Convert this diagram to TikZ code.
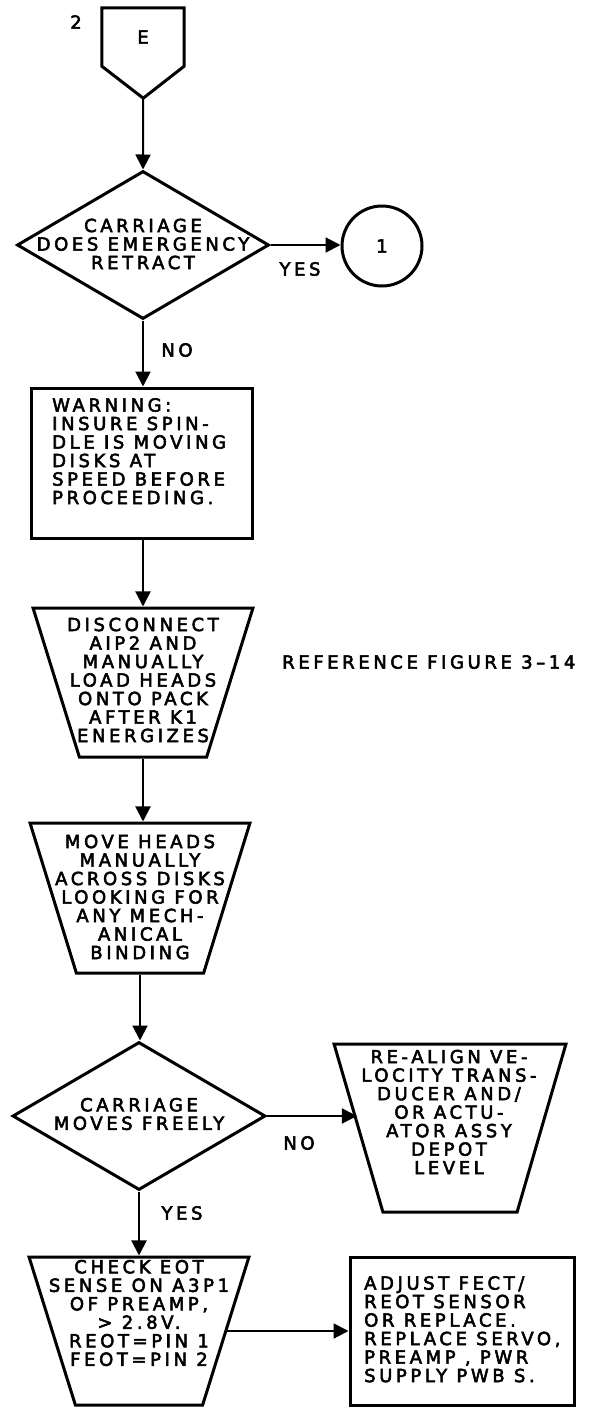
\documentclass[tikz,border=0pt]{standalone}
\usepackage{fontspec}
\setmainfont{DejaVu Sans}[LetterSpace=20, FakeBold=3]
\usepackage{tikz}
\usetikzlibrary{arrows.meta,shapes.geometric}

\begin{document}
\begin{tikzpicture}[x=1pt, y=-1pt,
    every node/.style={font=\fontsize{18}{18.5}\selectfont, inner sep=0pt},
    flow/.style={-{Triangle[length=15pt,width=15pt]}, line width=2pt},
    outline/.style={draw, line width=3pt, line join=miter},
    decision/.style={outline, diamond, minimum width=#1, minimum height=148pt},
    manual/.style={outline, trapezium, trapezium stretches=true, inner sep=2pt,
        trapezium left angle=110, trapezium right angle=110},
    note/.style={align=center}]
    \useasboundingbox (0,0) rectangle (597,1410);

    \node (two) at (76,22) {2};
    \node[minimum width=82pt, minimum height=58pt] (pageE) at (143,37) {E};
    \draw[outline] (pageE.south west) -- (pageE.north west) -- (pageE.north east)
        -- (pageE.south east) -- ++(-41,32) coordinate (pageEtip) -- cycle;

    \node[decision=252pt] (retract) at (143,245) {};
    \node[note] (retractT) at (143,244) {CARRIAGE\\DOES EMERGENCY\\RETRACT};
    \node[outline, circle, minimum size=80pt] (conn1) at (382,246) {1};
    \node (yes1) at (300,269) {YES};
    \node (no1) at (177,350) {NO};

    \node[outline, minimum width=221pt, minimum height=150pt] (warn) at (142,463) {};
    \node[align=left, anchor=north west] (warnT) at (52,398)
        {WARNING:\\INSURE SPIN-\\DLE IS MOVING\\DISKS AT\\SPEED BEFORE\\PROCEEDING.};

    \node[manual, minimum width=220pt, minimum height=149pt] (load) at (143,682.5) {};
    \node[note] (loadT) at (143,680)
        {DISCONNECT\\AIP2 AND\\MANUALLY\\LOAD HEADS\\ONTO PACK\\AFTER K1\\ENERGIZES};
    \node[anchor=west] (ref) at (282,662) {REFERENCE FIGURE 3–14};

    \node[manual, minimum width=220pt, minimum height=150pt] (move) at (140,898) {};
    \node[note] (moveT) at (140,897)
        {MOVE HEADS\\MANUALLY\\ACROSS DISKS\\LOOKING FOR\\ANY MECH-\\ANICAL\\BINDING};

    \node[decision=253pt] (freely) at (139,1116) {};
    \node[note] (freelyT) at (139,1114) {CARRIAGE\\MOVES FREELY};
    \node (no2) at (299,1143) {NO};

    \node[manual, minimum width=232pt, minimum height=168pt] (realign) at (450,1128) {};
    \node[note] (realignT) at (449,1112)
        {RE-ALIGN VE-\\LOCITY TRANS-\\DUCER AND/\\OR ACTU-\\ATOR ASSY\\DEPOT\\LEVEL};

    \node (yes2) at (182,1213) {YES};
    \node[manual, minimum width=220pt, minimum height=148pt] (check) at (139,1331) {};
    \node[note] (checkT) at (139,1313)
        {CHECK EOT\\SENSE ON A3P1\\OF PREAMP,\\> 2.8V.\\REOT=PIN 1\\FEOT=PIN 2};

    \node[outline, minimum width=224pt, minimum height=148pt] (adjust) at (462,1331) {};
    \node[align=left, anchor=north west] (adjustT) at (364,1276)
        {ADJUST FECT/\\REOT SENSOR\\OR REPLACE.\\REPLACE SERVO,\\PREAMP , PWR\\SUPPLY PWB S.};

    \draw[flow] (pageEtip) -- (retract.north);
    \draw[flow] (retract.east) -- (retract.east -| conn1.west);
    \draw[flow] (retract.south) -- (retract.south |- warn.north);
    \draw[flow] (load.north |- warn.south) -- (load.north);
    \draw[flow] (load.south) -- (load.south |- move.north);
    \draw[flow] (move.south) -- (move.south |- freely.north);
    \draw[flow] (freely.east) -- (freely.east -| realign.west);
    \draw[flow] (freely.south) -- (check.north);
    \draw[flow] (check.east) -- (check.east -| adjust.west);
\end{tikzpicture}
\end{document}
